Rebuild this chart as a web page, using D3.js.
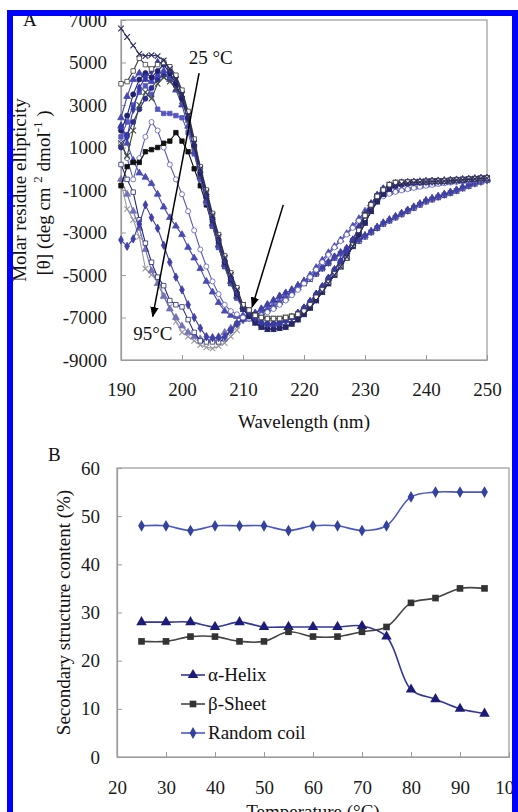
<!DOCTYPE html>
<html>
<head>
<meta charset="utf-8">
<script src="https://cdn.jsdelivr.net/npm/d3@7"></script>
<style>
  body { margin: 0; background: #fff; }
  svg { display: block; }
</style>
</head>
<body>
<svg id="chart"></svg>
<script>
// ---------- Panel A: CD spectra, one value per nm from 190 to 250 ----------
const wavelengths = d3.range(190, 251);
const waveTicks = [190, 200, 210, 220, 230, 240, 250];
const ellipTicks = [-9000, -7000, -5000, -3000, -1000, 1000, 3000, 5000, 7000];

// 190..209 nm part of each spectrum
const cd25 = [6600, 6200, 5800, 5400, 5300, 5350, 5300, 5100, 4700, 4200, 3500, 2500, 1200, 0, -1100, -2200, -3200, -4200, -5000, -5700];
const cd30 = [4000, 4100, 4600, 5200, 4900, 4700, 4900, 5000, 4800, 4400, 3700, 2700, 1400, 100, -1000, -2100, -3100, -4100, -4900, -5600];
const cd35 = [2000, 1500, 2800, 3800, 4300, 4600, 5000, 5000, 4700, 4300, 3600, 2600, 1300, 0, -1200, -2300, -3300, -4300, -5100, -5800];
const cd40 = [1800, 2500, 3500, 4200, 4500, 4300, 4600, 4900, 4500, 4000, 3300, 2400, 1100, -200, -1300, -2400, -3400, -4400, -5200, -5900];
const cd45 = [1200, 600, 1800, 3000, 3600, 3300, 4000, 4300, 4100, 3800, 3200, 2300, 1000, -300, -1400, -2500, -3500, -4500, -5300, -6000];
const cd50 = [2400, 3400, 4200, 4500, 4200, 4100, 4400, 4600, 4200, 3700, 3000, 2000, 800, -400, -1500, -2600, -3600, -4500, -5300, -6000];
const cd55 = [1500, 2200, 3000, 3600, 3900, 3500, 2800, 2600, 2600, 2500, 2400, 1700, 700, -500, -1600, -2700, -3700, -4600, -5400, -6100];
const cd60 = [1000, 1600, 2200, 2800, 3300, 3800, 4200, 4400, 4300, 3900, 3300, 2300, 1000, -300, -1400, -2500, -3500, -4500, -5300, -6000];
const cd65 = [-800, 100, 300, 300, 800, 900, 1000, 1200, 1300, 1700, 1300, 800, 0, -800, -1700, -2700, -3700, -4600, -5400, -6000];
const cd70 = [1200, 500, -500, 500, 1500, 2200, 1800, 1000, 200, -500, -1200, -2000, -2900, -3800, -4600, -5300, -5900, -6400, -6700, -6850];
const cd75 = [2000, 1200, 400, -200, -400, -700, -1200, -1800, -2300, -2700, -3100, -3700, -4200, -4700, -5300, -5800, -6300, -6700, -6900, -6950];
const cd80 = [-3350, -3650, -3300, -2600, -1700, -2300, -2800, -3600, -4400, -5100, -5700, -6400, -7000, -7500, -7900, -7950, -7950, -7900, -7600, -7300];
const cd85 = [200, -500, -1100, -2400, -3500, -4400, -5100, -5500, -6200, -6400, -6500, -7100, -7700, -8100, -8150, -8150, -8150, -8000, -7600, -7300];
const cd90 = [-500, -1200, -2000, -2800, -3800, -4800, -5400, -6000, -6600, -7000, -7400, -7700, -7900, -8000, -8050, -8000, -7900, -7700, -7500, -7250];
const cd95 = [-600, -1900, -2400, -3200, -4700, -5000, -5100, -6000, -6500, -7200, -7700, -7900, -8100, -8300, -8400, -8450, -8350, -8200, -7900, -7600];

// 210..250 nm part, read per bundle of overlapping spectra
const tailBlack = [-6400, -6650, -6900, -7000, -7050, -7050, -7050, -7000, -6950, -6850, -6700, -6400, -6050, -5700, -5350, -4950, -4600, -4200, -3600, -2900, -2200, -1700, -1300, -1000, -750, -650, -640, -630, -620, -610, -600, -590, -580, -570, -550, -530, -510, -490, -470, -450, -440];
const tailNavy = [-6600, -6950, -7250, -7450, -7550, -7550, -7500, -7450, -7300, -7100, -6850, -6550, -6200, -5800, -5400, -5000, -4600, -4150, -3650, -3100, -2550, -2000, -1550, -1200, -950, -800, -720, -680, -650, -630, -610, -600, -590, -580, -560, -540, -520, -500, -480, -460, -450];
const tailBlue = [-6500, -6800, -7100, -7250, -7300, -7300, -7250, -7150, -7000, -6800, -6550, -6250, -5900, -5550, -5150, -4750, -4350, -3900, -3350, -2750, -2150, -1650, -1250, -950, -780, -700, -670, -650, -630, -615, -600, -590, -580, -565, -550, -530, -510, -490, -470, -455, -445];
const tailMid = [-6900, -6950, -6900, -6800, -6650, -6500, -6300, -6100, -5850, -5600, -5300, -5000, -4650, -4300, -3950, -3650, -3350, -3050, -2700, -2350, -2000, -1650, -1380, -1220, -1120, -1040, -980, -930, -870, -820, -770, -730, -690, -660, -630, -600, -580, -560, -540, -520, -500];
const tailMid2 = [-7000, -7050, -7000, -6900, -6750, -6600, -6400, -6200, -5950, -5700, -5400, -5100, -4750, -4400, -4050, -3700, -3400, -3100, -2780, -2450, -2100, -1750, -1480, -1300, -1180, -1090, -1020, -960, -900, -850, -800, -760, -720, -680, -650, -620, -590, -570, -550, -530, -510];
const tailHigh = [-7100, -7000, -6800, -6600, -6400, -6200, -6000, -5850, -5700, -5500, -5300, -5100, -4900, -4650, -4400, -4150, -3950, -3750, -3550, -3350, -3150, -2950, -2750, -2550, -2400, -2250, -2100, -1950, -1800, -1650, -1500, -1400, -1300, -1200, -1100, -1000, -880, -770, -670, -590, -520];
const tailHigh2 = [-7050, -7050, -6900, -6750, -6550, -6350, -6150, -5950, -5800, -5600, -5400, -5200, -4950, -4700, -4450, -4200, -4000, -3800, -3600, -3400, -3200, -3000, -2800, -2600, -2450, -2300, -2150, -2000, -1850, -1700, -1550, -1450, -1350, -1250, -1150, -1050, -930, -820, -710, -620, -540];

const spectra = [
  { temp: 25, head: cd25, tail: tailNavy, color: '#2b2b5e', shape: 'x' },
  { temp: 30, head: cd30, tail: tailBlack, color: '#3a3a3a', shape: 'square', open: true },
  { temp: 35, head: cd35, tail: tailBlue, color: '#3838a6', shape: 'diamond' },
  { temp: 40, head: cd40, tail: tailNavy, color: '#20206e', shape: 'circle' },
  { temp: 45, head: cd45, tail: tailBlack, color: '#3d4a3d', shape: 'x' },
  { temp: 50, head: cd50, tail: tailBlue, color: '#4646b2', shape: 'triangle' },
  { temp: 55, head: cd55, tail: tailNavy, color: '#5656c2', shape: 'square' },
  { temp: 60, head: cd60, tail: tailBlue, color: '#2c2c96', shape: 'circle' },
  { temp: 65, head: cd65, tail: tailBlack, color: '#111111', shape: 'square' },
  { temp: 70, head: cd70, tail: tailMid2, color: '#5a5ab8', shape: 'circle', open: true },
  { temp: 75, head: cd75, tail: tailMid, color: '#4a4ab4', shape: 'triangle' },
  { temp: 80, head: cd80, tail: tailHigh, color: '#4040a8', shape: 'diamond' },
  { temp: 85, head: cd85, tail: tailHigh2, color: '#28287c', shape: 'square', open: true },
  { temp: 90, head: cd90, tail: tailHigh, color: '#7272b8', shape: 'triangle' },
  { temp: 95, head: cd95, tail: tailHigh2, color: '#9a9a9a', shape: 'x' }
];

// ---------- Panel B: secondary structure vs temperature ----------
const temps = [25, 30, 35, 40, 45, 50, 55, 60, 65, 70, 75, 80, 85, 90, 95];
const helix = [28, 28, 28, 27, 28, 27, 27, 27, 27, 27.2, 25, 14, 12, 10, 9];
const sheet = [24, 24, 25, 25, 24, 24, 26, 25, 25, 26, 27, 32, 33, 35, 35];
const coil = [48, 48, 47, 48, 48, 48, 47, 48, 48, 47, 48, 54, 55, 55, 55];
const tempTicks = [20, 30, 40, 50, 60, 70, 80, 90, 100];
const pctTicks = [0, 10, 20, 30, 40, 50, 60];

const structSeries = [
  { name: 'α-Helix', values: helix, line: '#35359c', color: '#1c1c78', shape: 'triangle', size: 48 },
  { name: 'β-Sheet', values: sheet, line: '#444444', color: '#333333', shape: 'square', size: 44 },
  { name: 'Random coil', values: coil, line: '#4a58c4', color: '#33419f', shape: 'diamond', size: 40 }
];

// ---------- drawing ----------
const font = '"Liberation Serif", "Times New Roman", serif';
const axisGray = '#9a9a9a';
const svg = d3.select('#chart').attr('width', 518).attr('height', 812);

svg.append('rect').attr('width', 518).attr('height', 812).attr('fill', '#fff');

const shapes = {
  square: d3.symbolSquare,
  diamond: d3.symbolDiamond,
  triangle: d3.symbolTriangle,
  circle: d3.symbolCircle,
  x: d3.symbolTimes || d3.symbolX || d3.symbolCross
};

function styleAxis(g) {
  g.attr('font-family', font).attr('font-size', 19);
  g.select('.domain').attr('stroke', axisGray).attr('stroke-width', 1.2);
  g.selectAll('.tick line').attr('stroke', axisGray).attr('stroke-width', 1);
  g.selectAll('.tick text').attr('fill', '#1a1a1a');
}

// arrow head
svg.append('defs').append('marker')
  .attr('id', 'arrow')
  .attr('viewBox', '0 0 10 10')
  .attr('refX', 9).attr('refY', 5)
  .attr('markerWidth', 7).attr('markerHeight', 7)
  .attr('orient', 'auto')
  .append('path').attr('d', 'M0,1 L10,5 L0,9 Z').attr('fill', '#000');

// ----- Panel A -----
const xA = d3.scaleLinear().domain([190, 250]).range([121, 487]);
const yA = d3.scaleLinear().domain([-9000, 7000]).range([360, 20]);

svg.append('rect')
  .attr('x', xA(190)).attr('y', yA(7000))
  .attr('width', xA(250) - xA(190)).attr('height', yA(-9000) - yA(7000))
  .attr('fill', 'none').attr('stroke', axisGray).attr('stroke-width', 1.2);

svg.append('g')
  .attr('transform', `translate(0,${yA(-9000)})`)
  .call(d3.axisBottom(xA).tickValues(waveTicks).tickSizeInner(-5).tickSizeOuter(0)
    .tickPadding(23).tickFormat(d => String(d)))
  .call(styleAxis);

svg.append('g')
  .attr('transform', `translate(${xA(190)},0)`)
  .call(d3.axisLeft(yA).tickValues(ellipTicks).tickSizeInner(-5).tickSizeOuter(0)
    .tickPadding(14).tickFormat(d => String(d)))
  .call(styleAxis);

const lineA = d3.line()
  .x((d, i) => xA(wavelengths[i]))
  .y(d => yA(d));

const specG = svg.append('g');
// high temperatures first so the low-temperature curves sit on top
spectra.slice().reverse().forEach(s => {
  const vals = s.head.concat(s.tail);
  const g = specG.append('g');
  g.append('path')
    .datum(vals)
    .attr('fill', 'none')
    .attr('stroke', s.color)
    .attr('stroke-width', 1.1)
    .attr('d', lineA);
  const stroked = s.shape === 'x';
  g.selectAll('path.mk')
    .data(vals)
    .join('path')
    .attr('class', 'mk')
    .attr('transform', (d, i) => `translate(${xA(wavelengths[i])},${yA(d)})`)
    .attr('d', d3.symbol().type(shapes[s.shape]).size(stroked ? 22 : 20))
    .attr('fill', stroked ? 'none' : (s.open ? '#fff' : s.color))
    .attr('stroke', s.color)
    .attr('stroke-width', stroked ? 1.1 : 0.8);
});

// temperature arrows
svg.append('line')
  .attr('x1', xA(202.8)).attr('y1', yA(4500))
  .attr('x2', xA(195.2)).attr('y2', yA(-6950))
  .attr('stroke', '#000').attr('stroke-width', 1.5)
  .attr('marker-end', 'url(#arrow)');
svg.append('line')
  .attr('x1', xA(216.6)).attr('y1', yA(-1700))
  .attr('x2', xA(211.5)).attr('y2', yA(-6500))
  .attr('stroke', '#000').attr('stroke-width', 1.5)
  .attr('marker-end', 'url(#arrow)');

svg.append('text')
  .attr('x', xA(201.1)).attr('y', yA(4950))
  .attr('font-family', font).attr('font-size', 19).attr('fill', '#111')
  .text('25 °C');
svg.append('text')
  .attr('x', xA(192)).attr('y', yA(-8050))
  .attr('font-family', font).attr('font-size', 19).attr('fill', '#111')
  .text('95°C');

svg.append('text')
  .attr('x', (xA(190) + xA(250)) / 2).attr('y', 428)
  .attr('text-anchor', 'middle')
  .attr('font-family', font).attr('font-size', 19).attr('fill', '#111')
  .text('Wavelength (nm)');

svg.append('text')
  .attr('transform', 'translate(26,190) rotate(-90)')
  .attr('text-anchor', 'middle')
  .attr('font-family', font).attr('font-size', 19).attr('fill', '#111')
  .text('Molar residue ellipticity');

const yt = svg.append('text')
  .attr('transform', 'translate(50,193) rotate(-90)')
  .attr('text-anchor', 'middle')
  .attr('font-family', font).attr('font-size', 19).attr('fill', '#111');
yt.append('tspan').text('[θ] (deg cm ');
yt.append('tspan').attr('font-size', 13).attr('dy', -8).text('2');
yt.append('tspan').attr('dy', 8).text(' dmol');
yt.append('tspan').attr('font-size', 13).attr('dy', -8).text('-1');
yt.append('tspan').attr('dy', 8).text(' )');

svg.append('text')
  .attr('x', 23).attr('y', 26)
  .attr('font-family', font).attr('font-size', 19).attr('fill', '#111')
  .text('A');

// ----- Panel B -----
const xB = d3.scaleLinear().domain([20, 100]).range([117, 509]);
const yB = d3.scaleLinear().domain([0, 60]).range([757, 468]);

svg.append('rect')
  .attr('x', xB(20)).attr('y', yB(60))
  .attr('width', xB(100) - xB(20)).attr('height', yB(0) - yB(60))
  .attr('fill', 'none').attr('stroke', axisGray).attr('stroke-width', 1.2);

svg.append('g')
  .attr('transform', `translate(0,${yB(0)})`)
  .call(d3.axisBottom(xB).tickValues(tempTicks).tickSizeInner(-5).tickSizeOuter(0)
    .tickPadding(24).tickFormat(d => String(d)))
  .call(styleAxis);

svg.append('g')
  .attr('transform', `translate(${xB(20)},0)`)
  .call(d3.axisLeft(yB).tickValues(pctTicks).tickSizeInner(-5).tickSizeOuter(0)
    .tickPadding(17).tickFormat(d => String(d)))
  .call(styleAxis);

const lineB = d3.line()
  .x((d, i) => xB(temps[i]))
  .y(d => yB(d))
  .curve(d3.curveCatmullRom.alpha(0.5));

structSeries.forEach(s => {
  svg.append('path')
    .datum(s.values)
    .attr('fill', 'none')
    .attr('stroke', s.line)
    .attr('stroke-width', 1.6)
    .attr('d', lineB);
  svg.append('g').selectAll('path')
    .data(s.values)
    .join('path')
    .attr('transform', (d, i) => `translate(${xB(temps[i])},${yB(d)})`)
    .attr('d', d3.symbol().type(shapes[s.shape]).size(s.size))
    .attr('fill', s.color);
});

// legend
const leg = svg.append('g').attr('transform', 'translate(181,675)');
structSeries.forEach((s, i) => {
  const row = leg.append('g').attr('transform', `translate(0,${i * 29})`);
  row.append('line').attr('x1', 0).attr('x2', 24).attr('stroke', s.line).attr('stroke-width', 1.6);
  row.append('path')
    .attr('transform', 'translate(12,0)')
    .attr('d', d3.symbol().type(shapes[s.shape]).size(s.size))
    .attr('fill', s.color);
  row.append('text')
    .attr('x', 27).attr('y', 6)
    .attr('font-family', font).attr('font-size', 19).attr('fill', '#111')
    .text(s.name);
});

svg.append('text')
  .attr('x', (xB(20) + xB(100)) / 2).attr('y', 818)
  .attr('text-anchor', 'middle')
  .attr('font-family', font).attr('font-size', 19).attr('fill', '#111')
  .text('Temperature (°C)');

svg.append('text')
  .attr('transform', `translate(70,${(yB(0) + yB(60)) / 2}) rotate(-90)`)
  .attr('text-anchor', 'middle')
  .attr('font-family', font).attr('font-size', 19).attr('fill', '#111')
  .text('Secondary structure content (%)');

svg.append('text')
  .attr('x', 48).attr('y', 461)
  .attr('font-family', font).attr('font-size', 19).attr('fill', '#111')
  .text('B');

// blue frame round the whole figure
svg.append('rect')
  .attr('x', 10).attr('y', 13)
  .attr('width', 505).attr('height', 830)
  .attr('fill', 'none')
  .attr('stroke', '#0000ff')
  .attr('stroke-width', 6);
</script>
</body>
</html>
